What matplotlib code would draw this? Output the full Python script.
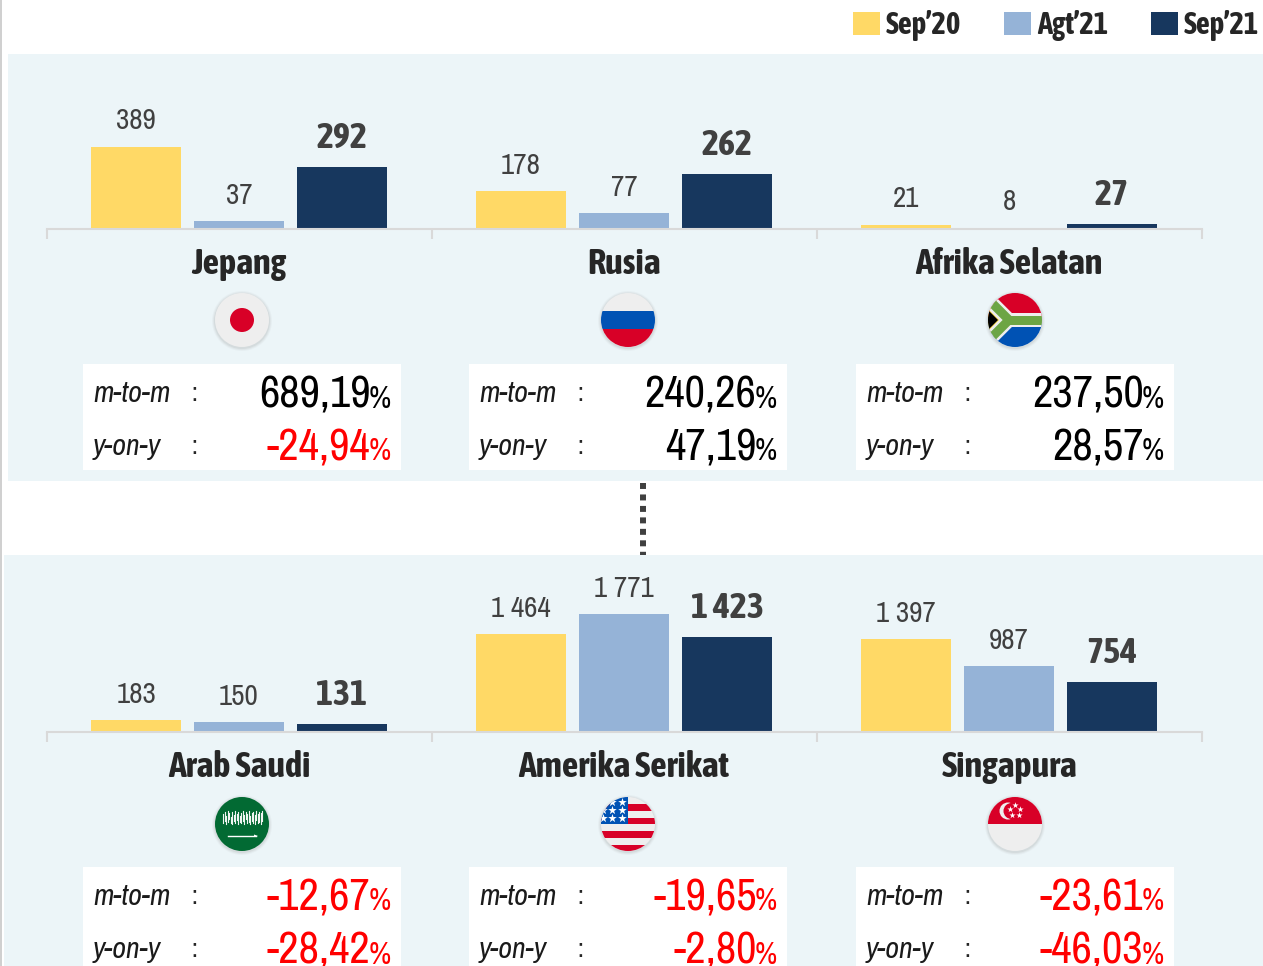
import matplotlib
matplotlib.use('Agg')
import matplotlib.pyplot as plt
from matplotlib.patches import Circle, Rectangle, Polygon

W, H = 1263, 966

plt.rcParams['font.family'] = ['Archivo Narrow', 'Liberation Sans', 'DejaVu Sans']
BOLD_FONT = ['Asap Condensed', 'Liberation Sans']

series_names = ['Sep’20', 'Agt’21', 'Sep’21']
series_colors = ['#ffd966', '#95b3d7', '#17375e']

top_countries = ['Jepang', 'Rusia', 'Afrika Selatan']
top_sep20 = [389, 178, 21]
top_agt21 = [37, 77, 8]
top_sep21 = [292, 262, 27]
top_mtom = [689.19, 240.26, 237.50]
top_yoy = [-24.94, 47.19, 28.57]

bot_countries = ['Arab Saudi', 'Amerika Serikat', 'Singapura']
bot_sep20 = [183, 1464, 1397]
bot_agt21 = [150, 1771, 987]
bot_sep21 = [131, 1423, 754]
bot_mtom = [-12.67, -19.65, -23.61]
bot_yoy = [-28.42, -2.80, -46.03]


def fmt_count(v):
    return f'{v:,}'.replace(',', ' ')


def fmt_pct(v):
    return f'{v:.2f}'.replace('.', ',')


def draw_row(fig, base_px, height_px, ymax, countries, rows):
    ax = fig.add_axes([46.5 / W, 1 - (base_px + 0.25) / H, (1201 - 46) / W, height_px / H], zorder=2)
    ax.patch.set_visible(False)
    offsets = [-0.2675, 0, 0.2675]
    for i, vals in enumerate(rows):
        xs = [g + 0.5 + offsets[i] for g in range(len(vals))]
        ax.bar(xs, vals, width=0.2335, color=series_colors[i], label=series_names[i])
        for x, v in zip(xs, vals):
            if i == 2:
                ax.annotate(fmt_count(v), (x, v), xytext=(0, 13.5), textcoords='offset points',
                            ha='center', va='baseline', fontsize=26, color='#404040',
                            family=BOLD_FONT, fontweight='bold')
            else:
                ax.annotate(fmt_count(v), (x, v), xytext=(0, 12.5), textcoords='offset points',
                            ha='center', va='baseline', fontsize=21, color='#404040')
    ax.set_xlim(0, 3)
    ax.set_ylim(0, ymax)
    for s in ['left', 'right', 'top']:
        ax.spines[s].set_visible(False)
    ax.spines['bottom'].set_color('#d9d9d9')
    ax.spines['bottom'].set_linewidth(1.5)
    ax.set_yticks([])
    ax.set_xticks([0, 1, 2, 3])
    ax.set_xticklabels([])
    ax.tick_params(axis='x', which='major', length=7, width=1.5, color='#d9d9d9')
    ax.set_xticks([0.5, 1.5, 2.5], minor=True)
    ax.set_xticklabels(countries, minor=True, fontsize=26, family=BOLD_FONT, fontweight='bold', color='#262626')
    ax.tick_params(axis='x', which='minor', length=0, pad=13)
    return ax


def flag_base(bg, cx, cy, color):
    for r, a in [(30, 0.05), (29, 0.07), (28, 0.10)]:
        bg.add_patch(Circle((cx, cy + 1), r, color='#7f7f7f', alpha=a, lw=0))
    clip = Circle((cx, cy), 27, color=color, lw=0)
    bg.add_patch(clip)
    return clip


def add_clipped(bg, clip, artist):
    bg.add_artist(artist)
    artist.set_clip_path(clip)
    return artist


def stars(bg, clip, xs, ys, size, color='white'):
    pts = bg.scatter(xs, ys, marker='*', s=size, color=color, lw=0, zorder=3)
    pts.set_clip_path(clip)


def flag_japan(bg, cx, cy):
    flag_base(bg, cx, cy, '#eeeeee')
    bg.add_patch(Circle((cx, cy), 12, color='#d80027', lw=0))


def flag_russia(bg, cx, cy):
    clip = flag_base(bg, cx, cy, '#eeeeee')
    add_clipped(bg, clip, Rectangle((cx - 27, cy - 9), 54, 18, color='#0052b4', lw=0))
    add_clipped(bg, clip, Rectangle((cx - 27, cy + 9), 54, 18, color='#d80027', lw=0))


def flag_south_africa(bg, cx, cy):
    clip = flag_base(bg, cx, cy, '#eeeeee')
    add_clipped(bg, clip, Rectangle((cx - 27, cy - 27), 54, 27, color='#d80027', lw=0))
    add_clipped(bg, clip, Rectangle((cx - 27, cy), 54, 27, color='#0052b4', lw=0))
    for col, lw in [('#eeeeee', 14 * 0.72), ('#6da544', 9 * 0.72)]:
        ln, = bg.plot([cx - 36, cx - 6, cx - 36], [cy - 30, cy, cy + 30], color=col, lw=lw,
                      solid_joinstyle='miter')
        ln.set_clip_path(clip)
        ln, = bg.plot([cx - 6, cx + 27], [cy, cy], color=col, lw=lw)
        ln.set_clip_path(clip)
    add_clipped(bg, clip, Polygon([(cx - 30, cy - 19.5), (cx - 10.5, cy), (cx - 30, cy + 19.5)], color='#ffda44', lw=0))
    add_clipped(bg, clip, Polygon([(cx - 30, cy - 13), (cx - 17, cy), (cx - 30, cy + 13)], color='#000000', lw=0))


def flag_saudi(bg, cx, cy):
    flag_base(bg, cx, cy, '#026a33')
    # rough stand-in for the calligraphy, too small to read in the reference
    tops = [3, 1, 5, 0, 2, 6, 1, 4, 0, 3, 1, 5, 2, 0, 4, 1, 3, 0, 5, 2, 1, 4, 0, 3, 1, 2, 0]
    bots = [1, 3, 0, 2, 5, 1, 0, 3, 1, 4, 0, 2, 1, 3, 0, 5, 1, 2, 0, 3, 1, 0, 4, 1, 2, 0, 3]
    for k, (t, b) in enumerate(zip(tops, bots)):
        x = cx - 19 + k * 1.5
        bg.plot([x, x], [cy - 13 + t, cy - b], color='#f0f5f2', lw=0.8, zorder=3)
    bg.plot([cx - 14, cx + 14], [cy + 12, cy + 12], color='white', lw=1, zorder=3)
    bg.add_patch(Polygon([(cx + 12, cy + 10.5), (cx + 16, cy + 12), (cx + 12, cy + 13)], color='white', lw=0, zorder=3))


def flag_usa(bg, cx, cy):
    clip = flag_base(bg, cx, cy, '#eeeeee')
    for k in range(4):
        add_clipped(bg, clip, Rectangle((cx - 27, cy - 20 + 13.5 * k), 54, 6.8, color='#d80027', lw=0))
    add_clipped(bg, clip, Rectangle((cx - 27, cy - 27), 27, 27, color='#0052b4', lw=0))
    stars(bg, clip, [cx - 6, cx - 16, cx - 6, cx - 16, cx - 25, cx - 6, cx - 16, cx - 25],
          [cy - 22, cy - 22, cy - 14, cy - 14, cy - 14, cy - 6, cy - 6, cy - 6], 42)


def flag_singapore(bg, cx, cy):
    clip = flag_base(bg, cx, cy, '#eeeeee')
    add_clipped(bg, clip, Rectangle((cx - 27, cy - 27), 54, 27, color='#d80027', lw=0))
    add_clipped(bg, clip, Circle((cx - 7, cy - 13), 8.5, color='#eeeeee', lw=0))
    add_clipped(bg, clip, Circle((cx - 3.5, cy - 13), 8, color='#d80027', lw=0))
    stars(bg, clip, [cx, cx + 5, cx + 3.5, cx - 3.5, cx - 5],
          [cy - 19, cy - 15, cy - 9, cy - 9, cy - 15], 22)


def draw_table(bg, x0, y0, mtom, yoy):
    bg.add_patch(Rectangle((x0, y0), 318, 106, color='white', lw=0))
    for label, val, dy in [('m-to-m', mtom, 38), ('y-on-y', yoy, 91)]:
        col = '#ff0000' if val < 0 else '#000000'
        bg.text(x0 + 10, y0 + dy, label, fontsize=21.5, style='italic', color='#1a1a1a', va='baseline')
        bg.text(x0 + 108, y0 + dy - 1, ':', fontsize=18, color='#262626', ha='left', va='baseline')
        bg.text(x0 + 308, y0 + dy + 5.5, '%', fontsize=22, color=col, ha='right', va='baseline')
        bg.text(x0 + 287.5, y0 + dy + 5.5, fmt_pct(val), fontsize=32, color=col, ha='right', va='baseline')


fig = plt.figure(figsize=(W / 100, H / 100), dpi=100, facecolor='white')

bg = fig.add_axes([0, 0, 1, 1], zorder=1)
bg.set_xlim(0, W)
bg.set_ylim(H, 0)
bg.axis('off')
bg.add_patch(Rectangle((0, 0), 2, H, color='#d0d0d0', lw=0))
bg.add_patch(Rectangle((8, 54), W - 8, 427, color='#ecf5f8', lw=0))
bg.add_patch(Rectangle((4, 555), W - 4, H - 555, color='#ecf5f8', lw=0))
bg.plot([643, 643], [483, 555], color='#404040', lw=4.3, ls=(0, (1, 0.92)))

top_ax = draw_row(fig, 229, 150, 706, top_countries, [top_sep20, top_agt21, top_sep21])
draw_row(fig, 732, 175, 2620, bot_countries, [bot_sep20, bot_agt21, bot_sep21])

flag_japan(bg, 242, 320)
flag_russia(bg, 628, 320)
flag_south_africa(bg, 1015, 320)
flag_saudi(bg, 242, 824)
flag_usa(bg, 628, 824)
flag_singapore(bg, 1015, 824)

for x0, m, y in zip([83, 469, 856], top_mtom, top_yoy):
    draw_table(bg, x0, 364, m, y)
for x0, m, y in zip([83, 469, 856], bot_mtom, bot_yoy):
    draw_table(bg, x0, 867, m, y)

top_ax.legend(loc='upper right', bbox_to_anchor=(1259 / W, 1 - 10 / H), bbox_transform=fig.transFigure,
              ncol=3, frameon=False, borderpad=0, borderaxespad=0,
              prop={'size': 22, 'weight': 'bold', 'family': BOLD_FONT}, handlelength=0.885, handleheight=0.75,
              handletextpad=0.2, columnspacing=1.4, labelcolor='#262626')

fig.savefig('out.png', dpi=100)
plt.close(fig)
